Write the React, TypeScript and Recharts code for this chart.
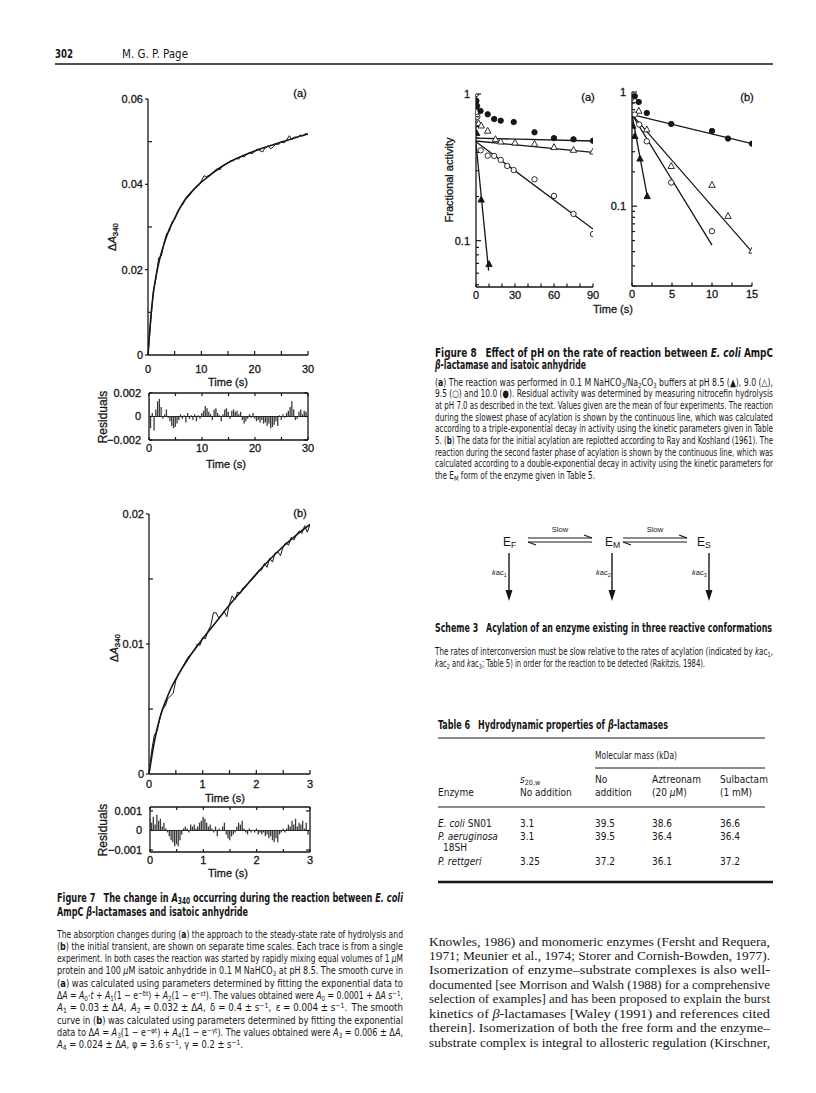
import React from "react";
import {
  LineChart,
  Line,
  BarChart,
  Bar,
  ComposedChart,
  Scatter,
  XAxis,
  YAxis,
  ReferenceLine,
} from "recharts";

const INK = "#161616";
const SANS = "'Liberation Sans', Arial, Helvetica, sans-serif";
const NARROW = "'Liberation Sans Narrow', 'Arial Narrow', 'DejaVu Sans Condensed', 'Liberation Sans', sans-serif";
const SERIF = "'Liberation Serif', 'Times New Roman', Times, serif";
// scanned figure lettering looks slightly heavy
const HEAVY = { stroke: INK, strokeWidth: 0.3 };

// ---- Figure 7(a): approach to steady state, 0-30 s ----
const fig7aFitTime = [0, 0.25, 0.5, 1, 1.5, 2, 3, 4, 5, 6, 7, 8, 10, 12, 14, 16, 18, 20, 22, 24, 26, 28, 30];
const fig7aFit = [0, 0.0045, 0.0085, 0.0145, 0.0185, 0.0215, 0.026, 0.0295, 0.032, 0.0345, 0.0365, 0.038, 0.0405, 0.0425, 0.0443, 0.0457, 0.0468, 0.0478, 0.0487, 0.0495, 0.0503, 0.0511, 0.0518];
const fig7aTraceStep = 0.5;
const fig7aTrace = [
  0, 0.0075, 0.015, 0.018, 0.0228, 0.0232, 0.0262, 0.0285, 0.029, 0.0312, 0.0318,
  0.0335, 0.0346, 0.0352, 0.0364, 0.037, 0.0378, 0.0388, 0.0392, 0.0398, 0.0408,
  0.042, 0.0418, 0.0422, 0.0426, 0.0432, 0.0437, 0.0434, 0.0443, 0.0447, 0.045,
  0.0456, 0.0455, 0.0461, 0.0459, 0.0466, 0.0464, 0.047, 0.0474, 0.0472, 0.0477,
  0.0483, 0.0479, 0.0476, 0.0486, 0.049, 0.0483, 0.0488, 0.0495, 0.0493, 0.05,
  0.0497, 0.0504, 0.0514, 0.0505, 0.0511, 0.0509, 0.0516, 0.0513, 0.0519, 0.0517,
];
const fig7aResidStep = 1 / 3;
const fig7aResid = [
  0.0016, -0.001, 0.0003, -0.0012, 0.0006, 0.0013, 0.0015, 0.0008, -0.0002, 0.0002,
  0.0006, -0.0001, -0.0004, -0.0008, -0.001, -0.0009, -0.0006, -0.0003, 0.0002, -0.0002,
  0.0001, -0.0005, 0.0003, -0.0002, 0.0001, -0.0003, 0.0002, -0.0004, 0.0001, -0.0002,
  0.0003, 0.0005, 0.0009, 0.0007, 0.0004, 0.0002, -0.0003, 0.0006, 0.0007, 0.0003,
  0.0001, -0.0004, 0.0002, 0.0006, 0.0007, 0.0004, -0.0002, 0.0005, 0.0006, 0.0004,
  0.0005, 0.0002, 0.0004, -0.0003, -0.0006, -0.0004, -0.0002, 0.0002, -0.0001, 0.0003,
  -0.0002, -0.0004, -0.0003, -0.0005, -0.0003, -0.0006, -0.0005, -0.0008, -0.0006, -0.001,
  -0.0009, -0.0007, -0.0004, -0.0008, 0.0001, -0.0003, 0.0002, -0.0001, 0.0003, 0.0005,
  0.0008, 0.0013, 0.0006, -0.0003, -0.0002, 0.0004, 0.0006, 0.0002, 0.0005, 0.0004,
];

// ---- Figure 7(b): initial transient, 0-3 s ----
const fig7bFitTime = [0, 0.1, 0.2, 0.3, 0.4, 0.5, 0.75, 1, 1.25, 1.5, 1.75, 2, 2.25, 2.5, 2.75, 3];
const fig7bFit = [0, 0.0025, 0.0043, 0.0055, 0.0065, 0.0073, 0.009, 0.0104, 0.0117, 0.013, 0.0142, 0.0154, 0.0165, 0.0175, 0.0184, 0.0192];
const fig7bTraceStep = 0.05;
const fig7bTrace = [
  0, 0.0018, 0.003, 0.0033, 0.0042, 0.005, 0.0052, 0.0058, 0.006, 0.0062, 0.0072,
  0.0077, 0.008, 0.0084, 0.0088, 0.0091, 0.0093, 0.0095, 0.01, 0.0099, 0.0105,
  0.0104, 0.011, 0.0114, 0.0124, 0.0124, 0.012, 0.0122, 0.0125, 0.0121, 0.0131,
  0.0137, 0.0134, 0.014, 0.0139, 0.0143, 0.0145, 0.0147, 0.0149, 0.0151, 0.0153,
  0.0156, 0.0157, 0.0162, 0.0159, 0.0166, 0.0163, 0.017, 0.0171, 0.0168, 0.0175,
  0.0178, 0.0176, 0.0182, 0.018, 0.0184, 0.0187, 0.0185, 0.0191, 0.0186, 0.0192,
];
const fig7bResidStep = 1 / 30;
const fig7bResid = [
  0.0006, 0.0004, 0.0007, 0.0003, 0.0008, 0.0005, 0.0006, 0.0002, 0.0004, 0.0001,
  -0.0001, -0.0003, -0.0005, -0.0006, -0.0008, -0.0007, -0.0008, -0.0005, -0.0002, 0.0001,
  0.0002, 0.0001, -0.0001, 0.0003, 0.0002, 0.0003, 0.0001, 0.0002, 0.0004, 0.0005,
  0.0007, 0.0006, 0.0004, 0.0002, 0.0003, 0.0001, -0.0001, 0.0002, -0.0003, 0.0001,
  0, 0.0002, 0.0004, -0.0002, -0.0004, -0.0005, -0.0003, -0.0002, -0.0001, 0.0002,
  0.0004, 0.0003, 0.0005, 0.0001, -0.0001, -0.0002, 0.0001, -0.0001, 0, -0.0001,
  0.0001, -0.0002, -0.0001, -0.0002, -0.0001, -0.0003, -0.0002, -0.0004, -0.0003, -0.0005,
  -0.0006, -0.0004, -0.0006, -0.0002, -0.0001, 0.0001, -0.0001, 0.0001, 0.0003, 0.0002,
  0.0005, 0.0003, 0.0006, 0.0002, 0.0004, 0.0003, 0.0005, 0.0001, 0.0004, -0.0002,
];

// ---- Figure 8: fractional activity vs time (s) ----
// (a) long time scale
const f8aPh85 = [[0.5, 0.54], [4, 0.19], [10, 0.069]];
const f8aPh90 = [[0.3, 0.757], [2, 0.631], [4, 0.608], [9, 0.56], [15, 0.491], [19, 0.473], [30, 0.465], [45, 0.456], [60, 0.433], [75, 0.415], [90, 0.404]];
const f8aPh95 = [[0, 1.0], [0.5, 0.75], [1, 0.7], [3.6, 0.413], [9, 0.38], [14, 0.378], [19, 0.355], [24, 0.323], [29, 0.303], [45, 0.262], [60, 0.202], [75, 0.152], [90, 0.111]];
const f8aPh100 = [[0.3, 0.9], [0.8, 0.83], [3.5, 0.766], [9, 0.727], [14, 0.675], [19, 0.658], [29, 0.644], [45, 0.548], [60, 0.5], [75, 0.491], [90, 0.48]];
const f8aFit85 = [[0, 0.46], [9.7, 0.0625]];
const f8aFit90 = [[0, 0.478], [90, 0.4]];
const f8aFit95 = [[0, 0.473], [90, 0.12]];
const f8aFit100 = [[0, 0.5], [90, 0.478]];
// (b) initial acylation
const f8bPh85 = [[0.1, 0.504], [0.35, 0.41], [1, 0.26], [1.9, 0.122]];
const f8bPh90 = [[0.35, 0.846], [0.85, 0.682], [1.85, 0.469], [4.9, 0.224], [10, 0.153], [12, 0.0818], [15, 0.0406]];
const f8bPh95 = [[0.35, 0.634], [0.9, 0.519], [1.85, 0.37], [4.9, 0.161], [10, 0.0604]];
const f8bPh100 = [[0.35, 0.92], [0.85, 0.818], [1.85, 0.655], [4.9, 0.525], [10, 0.456], [12, 0.391], [15, 0.353]];
const f8bFit85 = [[0, 0.634], [1.93, 0.12]];
const f8bFit90 = [[0, 0.634], [15, 0.0398]];
const f8bFit95 = [[0, 0.634], [10, 0.0456]];
const f8bFit100 = [[0, 0.634], [15, 0.353]];

// ---- Table 6 ----
const tableEnzymes = ["E. coli SN01", "P. aeruginosa", "P. rettgeri"];
const tableS20w = ["3.1", "3.1", "3.25"];
const tableNoAdd = ["39.5", "39.5", "37.2"];
const tableAztreonam = ["38.6", "36.4", "36.1"];
const tableSulbactam = ["36.6", "36.4", "37.2"];

// plot rectangles on the page (px)
type Box = { x: number; y: number; w: number; h: number };
const BOX_7A: Box = { x: 148, y: 99, w: 160, h: 256 };
const BOX_7A_RES: Box = { x: 149, y: 393, w: 159, h: 47 };
const BOX_7B: Box = { x: 149, y: 514, w: 161, h: 260 };
const BOX_7B_RES: Box = { x: 150, y: 807, w: 160, h: 45 };
const BOX_8A: Box = { x: 476, y: 94, w: 117, h: 193 };
const BOX_8B: Box = { x: 632, y: 92, w: 120, h: 194 };

const PAD = { l: 60, r: 10, t: 8, b: 40 };
const frame = (b: Box): React.CSSProperties => ({ position: "absolute", left: b.x - PAD.l, top: b.y - PAD.t });
const size = (b: Box) => ({ width: b.w + PAD.l + PAD.r, height: b.h + PAD.t + PAD.b });
const MARGIN = { top: PAD.t, right: PAD.r, bottom: 0, left: 0 };

const series = (times: number[], vals: number[]) => times.map((t, i) => ({ t, v: vals[i] }));
const sampled = (step: number, vals: number[]) => vals.map((v, i) => ({ t: i * step, v }));
const pairs = (pts: number[][]) => pts.map(([t, v]) => ({ t, v }));

function labelOf(labels: [number, string][], v: number) {
  const hit = labels.find(([k]) => Math.abs(k - v) < 1e-9);
  return hit ? hit[1] : "";
}

function YTick(p: any) {
  const { x = 0, y = 0, payload, labels, minor = 4, major = -3, far, gap = 5, fs = 11 } = p;
  const label = labelOf(labels, payload.value);
  const len = label ? major : minor;
  return (
    <g>
      {len !== 0 && <line x1={x} x2={x + len} y1={y} y2={y} stroke={INK} strokeWidth={1.2} />}
      {far != null && <line x1={x + far} x2={x + far - 4} y1={y} y2={y} stroke={INK} strokeWidth={1.2} />}
      {label && (
        <text x={x - gap} y={y} dy="0.36em" textAnchor="end" fontSize={fs} fontFamily={SANS} fill={INK} {...HEAVY}>
          {label}
        </text>
      )}
    </g>
  );
}

function XTick(p: any) {
  const { x = 0, y = 0, payload, labels, up = 4, top, dyLabel = 14, fs = 11 } = p;
  const label = labelOf(labels, payload.value);
  return (
    <g>
      <line x1={x} x2={x} y1={y} y2={y - up} stroke={INK} strokeWidth={1.2} />
      {top != null && <line x1={x} x2={x} y1={y - top} y2={y - top + up} stroke={INK} strokeWidth={1.2} />}
      {label && (
        <text x={x} y={y + dyLabel} dy="0.36em" textAnchor="middle" fontSize={fs} fontFamily={SANS} fill={INK} {...HEAVY}>
          {label}
        </text>
      )}
    </g>
  );
}

const axisLine = { stroke: INK, strokeWidth: 1.3 };

function TraceChart({ box, fit, trace, xMax, xTicks, xLabels, yMax, yTicks, yLabels, dyLabel }: any) {
  return (
    <div style={frame(box)}>
      <LineChart {...size(box)} margin={MARGIN}>
        <XAxis
          type="number" dataKey="t" domain={[0, xMax]} ticks={xTicks} interval={0}
          height={PAD.b} tickSize={0} tickMargin={0} tickLine={false} axisLine={axisLine}
          tick={(p: any) => <XTick {...p} labels={xLabels} dyLabel={dyLabel} />}
          allowDataOverflow
        />
        <YAxis
          type="number" domain={[0, yMax]} ticks={yTicks} interval={0}
          width={PAD.l} tickSize={0} tickMargin={0} tickLine={false} axisLine={axisLine}
          tick={(p: any) => <YTick {...p} labels={yLabels} />}
          allowDataOverflow
        />
        <Line data={trace} dataKey="v" type="linear" stroke={INK} strokeWidth={1} dot={false} isAnimationActive={false} />
        <Line data={fit} dataKey="v" type="monotone" stroke={INK} strokeWidth={1.6} dot={false} isAnimationActive={false} />
      </LineChart>
    </div>
  );
}

function ResidualChart({ box, data, xMax, xTicks, xLabels, yDomain, yTicks, yLabels }: any) {
  return (
    <div style={frame(box)}>
      <BarChart {...size(box)} data={data} margin={MARGIN}>
        <XAxis
          type="number" dataKey="t" domain={[0, xMax]} ticks={xTicks} interval={0}
          height={PAD.b} tickSize={0} tickMargin={0} tickLine={false} axisLine={axisLine}
          tick={(p: any) => <XTick {...p} labels={xLabels} top={box.h} up={3} dyLabel={8.5} />}
          allowDataOverflow
        />
        <YAxis
          type="number" domain={yDomain} ticks={yTicks} interval={0}
          width={PAD.l} tickSize={0} tickMargin={0} tickLine={false} axisLine={axisLine}
          tick={(p: any) => <YTick {...p} labels={yLabels} major={3} far={box.w} gap={8} />}
          allowDataOverflow
        />
        <ReferenceLine y={yDomain[1]} stroke={INK} strokeWidth={1.3} />
        <ReferenceLine x={xMax} stroke={INK} strokeWidth={1.3} />
        <ReferenceLine y={0} stroke={INK} strokeWidth={0.9} />
        <Bar dataKey="v" barSize={1.3} fill="#3a3a3a" isAnimationActive={false} />
      </BarChart>
    </div>
  );
}

function marker(kind: "fc" | "oc" | "ft" | "ot") {
  return (p: any) => {
    const { cx, cy } = p;
    const fill = kind === "fc" || kind === "ft" ? INK : "#fff";
    if (kind === "fc" || kind === "oc") {
      return <circle cx={cx} cy={cy} r={2.7} fill={fill} stroke={INK} strokeWidth={0.9} />;
    }
    const pts = `${cx},${cy - 3.6} ${cx - 3.2},${cy + 2.3} ${cx + 3.2},${cy + 2.3}`;
    return <polygon points={pts} fill={fill} stroke={INK} strokeWidth={0.9} />;
  };
}

const logTicks = [0.02, 0.03, 0.04, 0.05, 0.06, 0.07, 0.08, 0.09, 0.1, 0.2, 0.3, 0.4, 0.5, 0.6, 0.7, 0.8, 0.9, 1];
const logLabels: [number, string][] = [[0.1, "0.1"], [1, "1"]];

function ActivityChart({ box, xMax, xTicks, xLabels, yMin, pts, fits }: any) {
  return (
    <div style={frame(box)}>
      <ComposedChart {...size(box)} margin={MARGIN}>
        <XAxis
          type="number" dataKey="t" domain={[0, xMax]} ticks={xTicks} interval={0}
          height={PAD.b} tickSize={0} tickMargin={0} tickLine={false} axisLine={axisLine}
          tick={(p: any) => <XTick {...p} labels={xLabels} up={3.5} dyLabel={8.5} />}
          allowDataOverflow
        />
        <YAxis
          type="number" dataKey="v" scale="log" domain={[yMin, 1]} ticks={logTicks.filter((t) => t >= yMin)}
          interval={0} width={PAD.l} tickSize={0} tickMargin={0} tickLine={false} axisLine={axisLine}
          tick={(p: any) => <YTick {...p} labels={logLabels} minor={3} major={5} gap={6} />}
          allowDataOverflow
        />
        {fits.map((f: number[][], i: number) => (
          <Line key={"f" + i} data={pairs(f)} dataKey="v" type="linear" stroke={INK} strokeWidth={1.3} dot={false} isAnimationActive={false} />
        ))}
        <Scatter data={pairs(pts[0])} shape={marker("ft")} isAnimationActive={false} />
        <Scatter data={pairs(pts[1])} shape={marker("ot")} isAnimationActive={false} />
        <Scatter data={pairs(pts[2])} shape={marker("oc")} isAnimationActive={false} />
        <Scatter data={pairs(pts[3])} shape={marker("fc")} isAnimationActive={false} />
      </ComposedChart>
    </div>
  );
}

// ---- text helpers ----
function L({ x, y, w, fs = 10, font = NARROW, weight, anchor, heavy, children }: any) {
  const fit = w ? { textLength: w, lengthAdjust: "spacingAndGlyphs" } : {};
  return (
    <text x={x} y={y} fontSize={fs} fontFamily={font} fontWeight={weight} textAnchor={anchor} fill={INK} {...(heavy ? HEAVY : {})} {...fit}>
      {children}
    </text>
  );
}
const Sub = ({ c }: { c: string }) => <tspan baselineShift="-2.2" fontSize="72%">{c}</tspan>;
const Sup = ({ c }: { c: string }) => <tspan baselineShift="3.4" fontSize="72%">{c}</tspan>;
const It = ({ c }: { c: string }) => <tspan fontStyle="italic">{c}</tspan>;
const Bd = ({ c }: { c: string }) => <tspan fontWeight="bold">{c}</tspan>;

function PageText() {
  const c7 = 57, w7 = 346;
  const b7 = (i: number) => 937.5 + 12.3 * i;
  const c8 = 435, w8 = 338;
  const b8 = (i: number) => 385.5 + 11.7 * i;
  const bt = (i: number) => 945.5 + 14.45 * i;
  const tRow = [826.5, 840, 865];
  return (
    <svg width={816} height={1093} style={{ position: "absolute", left: 0, top: 0 }}>
      {/* running head */}
      <L x={55} y={57.5} fs={13} weight="bold" w={18}>302</L>
      <L x={122} y={57.5} fs={13} w={66}>M. G. P. Page</L>
      <line x1={55} x2={773} y1={64} y2={64} stroke={INK} strokeWidth={1.4} />

      {/* figure 7 axis titles */}
      <text transform="translate(116,237) rotate(-90)" textAnchor="middle" fontSize={11} fontFamily={SANS} fill={INK} {...HEAVY}>
        {"\u0394"}<It c="A" /><Sub c="340" />
      </text>
      <text transform="translate(118,648) rotate(-90)" textAnchor="middle" fontSize={11} fontFamily={SANS} fill={INK} {...HEAVY}>
        {"\u0394"}<It c="A" /><Sub c="340" />
      </text>
      <text transform="translate(107,417) rotate(-90)" textAnchor="middle" fontSize={12} fontFamily={SANS} fill={INK} {...HEAVY}>Residuals</text>
      <text transform="translate(107,830) rotate(-90)" textAnchor="middle" fontSize={12} fontFamily={SANS} fill={INK} {...HEAVY}>Residuals</text>
      <L x={228} y={386} fs={11} font={SANS} anchor="middle" heavy>Time (s)</L>
      <L x={226} y={468} fs={11} font={SANS} anchor="middle" heavy>Time (s)</L>
      <L x={225} y={802} fs={11} font={SANS} anchor="middle" heavy>Time (s)</L>
      <L x={228} y={877} fs={11} font={SANS} anchor="middle" heavy>Time (s)</L>
      <L x={300} y={97} fs={11} font={SANS} anchor="middle" heavy>(a)</L>
      <L x={300} y={517} fs={11} font={SANS} anchor="middle" heavy>(b)</L>

      {/* figure 8 axis titles */}
      <text transform="translate(453,180) rotate(-90)" textAnchor="middle" fontSize={11} fontFamily={SANS} fill={INK} {...HEAVY}>Fractional activity</text>
      <L x={588} y={101} fs={11} font={SANS} anchor="middle" heavy>(a)</L>
      <L x={747} y={101} fs={11} font={SANS} anchor="middle" heavy>(b)</L>
      <L x={613} y={313} fs={11} font={SANS} anchor="middle" heavy>Time (s)</L>

      {/* figure 7 caption */}
      <L x={c7} y={902} fs={11.5} weight="bold" w={w7}>
        Figure 7{"\u2003"}The change in <It c="A" /><Sub c="340" /> occurring during the reaction between <It c="E. coli" />
      </L>
      <L x={c7} y={915.5} fs={11.5} weight="bold" w={191}>
        AmpC <It c={"\u03B2"} />-lactamases and isatoic anhydride
      </L>
      <L x={c7} y={b7(0)} w={w7}>The absorption changes during (<Bd c="a" />) the approach to the steady-state rate of hydrolysis and</L>
      <L x={c7} y={b7(1)} w={w7}>(<Bd c="b" />) the initial transient, are shown on separate time scales. Each trace is from a single</L>
      <L x={c7} y={b7(2)} w={w7}>experiment. In both cases the reaction was started by rapidly mixing equal volumes of 1 <It c={"\u03BC"} />M</L>
      <L x={c7} y={b7(3)} w={w7}>protein and 100 <It c={"\u03BC"} />M isatoic anhydride in 0.1 M NaHCO<Sub c="3" /> at pH 8.5. The smooth curve in</L>
      <L x={c7} y={b7(4)} w={w7}>(<Bd c="a" />) was calculated using parameters determined by fitting the exponential data to</L>
      <L x={c7} y={b7(5)} w={w7}>
        {"\u0394"}<It c="A" /> = <It c="A" /><Sub c="0" />{"\u00B7"}<It c="t" /> + <It c="A" /><Sub c="1" />(1 {"\u2212"} e<Sup c={"\u2212\u03B4t"} />) + <It c="A" /><Sub c="2" />(1 {"\u2212"} e<Sup c={"\u2212\u03B5t"} />). The values obtained were <It c="A" /><Sub c="0" /> = 0.0001 + {"\u0394"}<It c="A" /> s<Sup c={"\u22121"} />,
      </L>
      <L x={c7} y={b7(6)} w={w7}>
        <It c="A" /><Sub c="1" /> = 0.03 {"\u00B1"} {"\u0394"}<It c="A" />,{"\u2002"}<It c="A" /><Sub c="2" /> = 0.032 {"\u00B1"} {"\u0394"}<It c="A" />,{"\u2002"}{"\u03B4"} = 0.4 {"\u00B1"} s<Sup c={"\u22121"} />,{"\u2002"}{"\u03B5"} = 0.004 {"\u00B1"} s<Sup c={"\u22121"} />.{"\u2002"}The smooth
      </L>
      <L x={c7} y={b7(7)} w={w7}>curve in (<Bd c="b" />) was calculated using parameters determined by fitting the exponential</L>
      <L x={c7} y={b7(8)} w={w7}>
        data to {"\u0394"}<It c="A" /> = <It c="A" /><Sub c="3" />(1 {"\u2212"} e<Sup c={"\u2212\u03C6t"} />) + <It c="A" /><Sub c="4" />(1 {"\u2212"} e<Sup c={"\u2212\u03B3t"} />). The values obtained were <It c="A" /><Sub c="3" /> = 0.006 {"\u00B1"} {"\u0394"}<It c="A" />,
      </L>
      <L x={c7} y={b7(9)} w={186}>
        <It c="A" /><Sub c="4" /> = 0.024 {"\u00B1"} {"\u0394"}<It c="A" />, {"\u03C6"} = 3.6 s<Sup c={"\u22121"} />, {"\u03B3"} = 0.2 {"\u00B1"} s<Sup c={"\u22121"} />.
      </L>

      {/* figure 8 caption */}
      <L x={c8} y={356.5} fs={11.5} weight="bold" w={w8}>
        Figure 8{"\u2003"}Effect of pH on the rate of reaction between <It c="E. coli" /> AmpC
      </L>
      <L x={c8} y={368.5} fs={11.5} weight="bold" w={151}>
        <It c={"\u03B2"} />-lactamase and isatoic anhydride
      </L>
      <L x={c8} y={b8(0)} w={w8}>(<Bd c="a" />) The reaction was performed in 0.1 M NaHCO<Sub c="3" />/Na<Sub c="2" />CO<Sub c="3" /> buffers at pH 8.5 ({"\u25B2"}), 9.0 ({"\u25B3"}),</L>
      <L x={c8} y={b8(1)} w={w8}>9.5 ({"\u25CB"}) and 10.0 ({"\u25CF"}). Residual activity was determined by measuring nitrocefin hydrolysis</L>
      <L x={c8} y={b8(2)} w={w8}>at pH 7.0 as described in the text. Values given are the mean of four experiments. The reaction</L>
      <L x={c8} y={b8(3)} w={w8}>during the slowest phase of acylation is shown by the continuous line, which was calculated</L>
      <L x={c8} y={b8(4)} w={w8}>according to a triple-exponential decay in activity using the kinetic parameters given in Table</L>
      <L x={c8} y={b8(5)} w={w8}>5. (<Bd c="b" />) The data for the initial acylation are replotted according to Ray and Koshland (1961). The</L>
      <L x={c8} y={b8(6)} w={w8}>reaction during the second faster phase of acylation is shown by the continuous line, which was</L>
      <L x={c8} y={b8(7)} w={w8}>calculated according to a double-exponential decay in activity using the kinetic parameters for</L>
      <L x={c8} y={b8(8)} w={160}>the E<Sub c="M" /> form of the enzyme given in Table 5.</L>

      {/* scheme 3 */}
      <L x={503} y={546} fs={12} font={SANS}>E<Sub c="F" /></L>
      <L x={605} y={546} fs={12} font={SANS}>E<Sub c="M" /></L>
      <L x={697} y={546} fs={12} font={SANS}>E<Sub c="S" /></L>
      <L x={560} y={532} fs={7.5} font={SANS} anchor="middle">Slow</L>
      <L x={655} y={532} fs={7.5} font={SANS} anchor="middle">Slow</L>
      {[[528, 592], [623, 687]].map(([a, b]) => (
        <g key={a} stroke={INK} strokeWidth={1.1} fill="none">
          <line x1={a} x2={b} y1={538} y2={538} />
          <line x1={b} x2={b - 8} y1={538} y2={535} />
          <line x1={a} x2={b} y1={542} y2={542} />
          <line x1={a} x2={a + 8} y1={542} y2={545} />
        </g>
      ))}
      {[509, 612, 709].map((x) => (
        <g key={x}>
          <line x1={x} x2={x} y1={553} y2={592} stroke={INK} strokeWidth={1.4} />
          <polygon points={`${x - 3.5},${590} ${x + 3.5},${590} ${x},${601}`} fill={INK} />
        </g>
      ))}
      <L x={492} y={575} fs={7.5} font={SANS}><It c="k" />ac<Sub c="1" /></L>
      <L x={596} y={575} fs={7.5} font={SANS}><It c="k" />ac<Sub c="2" /></L>
      <L x={692} y={575} fs={7.5} font={SANS}><It c="k" />ac<Sub c="3" /></L>
      <L x={c8} y={632} fs={11.5} weight="bold" w={337}>
        Scheme 3{"\u2003"}Acylation of an enzyme existing in three reactive conformations
      </L>
      <L x={c8} y={655} w={w8}>
        The rates of interconversion must be slow relative to the rates of acylation (indicated by <It c="k" />ac<Sub c="1" />,
      </L>
      <L x={c8} y={666.7} w={270}>
        <It c="k" />ac<Sub c="2" /> and <It c="k" />ac<Sub c="3" />; Table 5) in order for the reaction to be detected (Rakitzis, 1984).
      </L>

      {/* table 6 */}
      <L x={438} y={729} fs={11.5} weight="bold" w={230}>
        Table 6{"\u2003"}Hydrodynamic properties of <It c={"\u03B2"} />-lactamases
      </L>
      <line x1={438} x2={765} y1={738} y2={738} stroke={INK} strokeWidth={1} />
      <L x={595} y={758.5} w={82}>Molecular mass (kDa)</L>
      <line x1={595} x2={765} y1={768} y2={768} stroke={INK} strokeWidth={1} />
      <L x={520} y={782.5}><It c="s" /><Sub c="20,w" /></L>
      <L x={520} y={795.5}>No addition</L>
      <L x={595} y={782.5}>No</L>
      <L x={595} y={795.5}>addition</L>
      <L x={652} y={782.5}>Aztreonam</L>
      <L x={652} y={795.5}>(20 <It c={"\u03BC"} />M)</L>
      <L x={720} y={782.5}>Sulbactam</L>
      <L x={720} y={795.5}>(1 mM)</L>
      <L x={438} y={795.5}>Enzyme</L>
      <line x1={438} x2={765} y1={807} y2={807} stroke={INK} strokeWidth={1} />
      {tableEnzymes.map((name, i) => (
        <g key={name}>
          <L x={438} y={tRow[i]}>
            {i === 0 ? (<><It c="E. coli" /> SN01</>) : <It c={name} />}
          </L>
          <L x={520} y={tRow[i]}>{tableS20w[i]}</L>
          <L x={595} y={tRow[i]}>{tableNoAdd[i]}</L>
          <L x={652} y={tRow[i]}>{tableAztreonam[i]}</L>
          <L x={720} y={tRow[i]}>{tableSulbactam[i]}</L>
        </g>
      ))}
      <L x={443} y={851}>18SH</L>
      <line x1={438} x2={773} y1={882} y2={882} stroke={INK} strokeWidth={2.6} />

      {/* body text */}
      <L x={429} y={bt(0)} fs={13} font={SERIF} w={341}>Knowles, 1986) and monomeric enzymes (Fersht and Requera,</L>
      <L x={429} y={bt(1)} fs={13} font={SERIF} w={341}>1971; Meunier et al., 1974; Storer and Cornish-Bowden, 1977).</L>
      <L x={429} y={bt(2)} fs={13} font={SERIF} w={341}>Isomerization{"  "}of{"  "}enzyme{"\u2013"}substrate{"  "}complexes{"  "}is{"  "}also{"  "}well-</L>
      <L x={429} y={bt(3)} fs={13} font={SERIF} w={341}>documented [see Morrison and Walsh (1988) for a comprehensive</L>
      <L x={429} y={bt(4)} fs={13} font={SERIF} w={341}>selection of examples] and has been proposed to explain the burst</L>
      <L x={429} y={bt(5)} fs={13} font={SERIF} w={341}>kinetics of <It c={"\u03B2"} />-lactamases [Waley (1991) and references cited</L>
      <L x={429} y={bt(6)} fs={13} font={SERIF} w={341}>therein]. Isomerization of both the free form and the enzyme{"\u2013"}</L>
      <L x={429} y={bt(7)} fs={13} font={SERIF} w={341}>substrate complex is integral to allosteric regulation (Kirschner,</L>
    </svg>
  );
}

export default function App() {
  return (
    <div style={{ position: "absolute", left: 0, top: 0, width: 816, height: 1093, background: "#fff", overflow: "hidden" }}>
      <TraceChart
        box={BOX_7A}
        fit={series(fig7aFitTime, fig7aFit)}
        trace={sampled(fig7aTraceStep, fig7aTrace)}
        xMax={30} xTicks={[0, 5, 10, 15, 20, 25, 30]}
        xLabels={[[0, "0"], [10, "10"], [20, "20"], [30, "30"]]}
        yMax={0.06} yTicks={[0, 0.01, 0.02, 0.03, 0.04, 0.05, 0.06]}
        yLabels={[[0, "0"], [0.02, "0.02"], [0.04, "0.04"], [0.06, "0.06"]]}
        dyLabel={14}
      />
      <ResidualChart
        box={BOX_7A_RES}
        data={sampled(fig7aResidStep, fig7aResid)}
        xMax={30} xTicks={[0, 5, 10, 15, 20, 25, 30]}
        xLabels={[[0, "0"], [10, "10"], [20, "20"], [30, "30"]]}
        yDomain={[-0.002, 0.002]} yTicks={[-0.002, 0, 0.002]}
        yLabels={[[-0.002, "\u22120.002"], [0, "0"], [0.002, "0.002"]]}
      />
      <TraceChart
        box={BOX_7B}
        fit={series(fig7bFitTime, fig7bFit)}
        trace={sampled(fig7bTraceStep, fig7bTrace)}
        xMax={3} xTicks={[0, 0.5, 1, 1.5, 2, 2.5, 3]}
        xLabels={[[0, "0"], [1, "1"], [2, "2"], [3, "3"]]}
        yMax={0.02} yTicks={[0, 0.005, 0.01, 0.015, 0.02]}
        yLabels={[[0, "0"], [0.01, "0.01"], [0.02, "0.02"]]}
        dyLabel={10}
      />
      <ResidualChart
        box={BOX_7B_RES}
        data={sampled(fig7bResidStep, fig7bResid)}
        xMax={3} xTicks={[0, 0.5, 1, 1.5, 2, 2.5, 3]}
        xLabels={[[0, "0"], [1, "1"], [2, "2"], [3, "3"]]}
        yDomain={[-0.0011, 0.0012]} yTicks={[-0.001, 0, 0.001]}
        yLabels={[[-0.001, "\u22120.001"], [0, "0"], [0.001, "0.001"]]}
      />
      <ActivityChart
        box={BOX_8A} xMax={90} xTicks={[0, 10, 20, 30, 40, 50, 60, 70, 80, 90]}
        xLabels={[[0, "0"], [30, "30"], [60, "60"], [90, "90"]]}
        yMin={0.0483}
        pts={[f8aPh85, f8aPh90, f8aPh95, f8aPh100]}
        fits={[f8aFit85, f8aFit90, f8aFit95, f8aFit100]}
      />
      <ActivityChart
        box={BOX_8B} xMax={15} xTicks={[0, 2.5, 5, 7.5, 10, 12.5, 15]}
        xLabels={[[0, "0"], [5, "5"], [10, "10"], [15, "15"]]}
        yMin={0.02}
        pts={[f8bPh85, f8bPh90, f8bPh95, f8bPh100]}
        fits={[f8bFit85, f8bFit90, f8bFit95, f8bFit100]}
      />
      <PageText />
    </div>
  );
}
